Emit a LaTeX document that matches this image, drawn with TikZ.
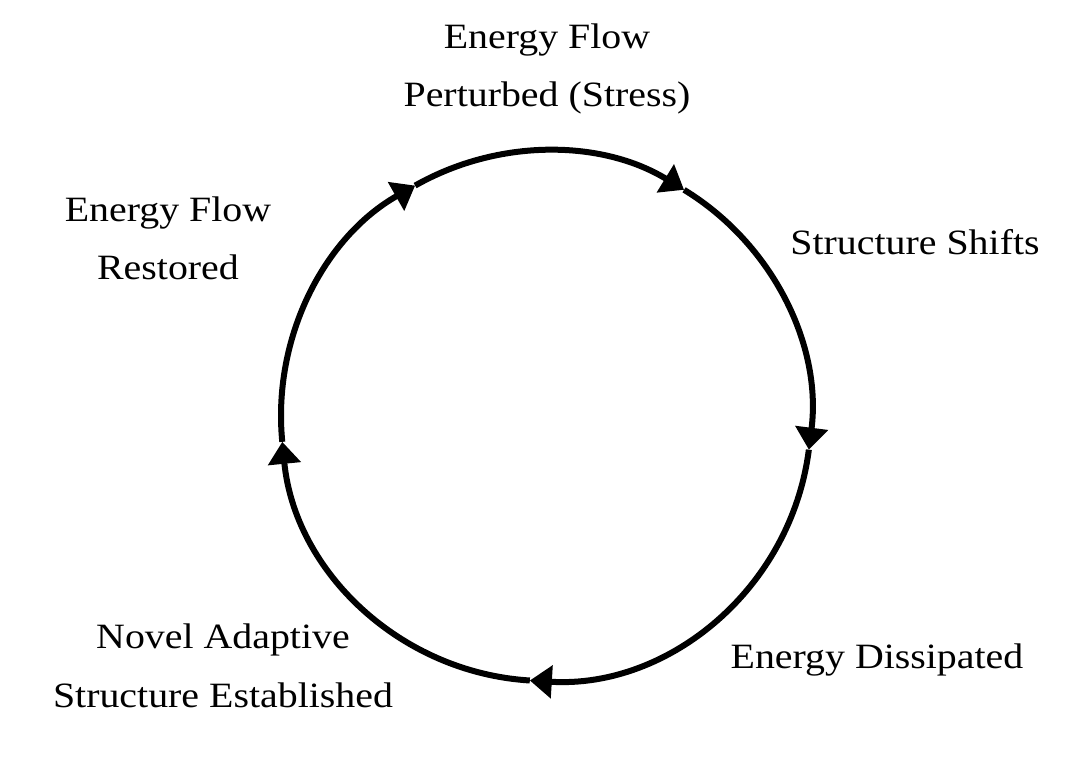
\documentclass[tikz,border=0pt]{standalone}
\usepackage{fontspec}
\setmainfont[FakeStretch=1.12]{Liberation Serif}
\usetikzlibrary{arrows.meta,calc}
\begin{document}
\begin{tikzpicture}[x=0.5pt,y=0.5pt,
  lbl/.style={font=\fontsize{17.8pt}{29pt}\selectfont, inner sep=0pt, align=center, anchor=base},
  flow/.style={line width=3pt, -{Triangle[length=11pt,width=16pt]}}]
\useasboundingbox (0,0) rectangle (1080,759);
\coordinate (C) at (546,343);
\coordinate (T1) at ($(C)+(58.6:265)$);
\coordinate (T2) at ($(C)+(-7.3:265)$);
\coordinate (T3) at ($(C)+(-93.5:265)$);
\coordinate (T4) at ($(C)+(-174.4:265)$);
\coordinate (T5) at ($(C)+(119.6:265)$);
\draw[flow] (T5) arc[start angle=119.6, end angle=58.6, radius=132.5pt];
\draw[flow] (T1) arc[start angle=58.6, end angle=-7.3, radius=132.5pt];
\draw[flow] (T2) arc[start angle=-7.3, end angle=-93.5, radius=132.5pt];
\draw[flow] (T3) arc[start angle=-93.5, end angle=-174.4, radius=132.5pt];
\draw[flow] (T4) arc[start angle=185.6, end angle=119.6, radius=132.5pt];
\node[lbl] (perturbed) at (547,652) {Energy Flow\\Perturbed (Stress)};
\node[lbl] (shifts) at (915,504) {Structure Shifts};
\node[lbl] (dissipated) at (877,90) {Energy Dissipated};
\node[lbl] (novel) at (223,52) {Novel Adaptive\\Structure Established};
\node[lbl] (restored) at (168,479) {Energy Flow\\Restored};
\end{tikzpicture}
\end{document}
